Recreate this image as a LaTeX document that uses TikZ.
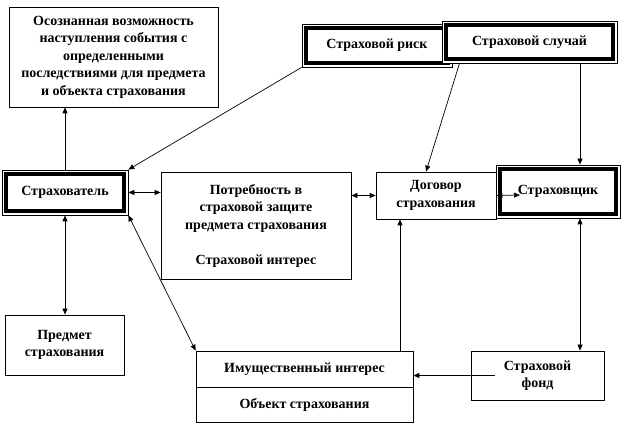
\documentclass[tikz,border=0pt]{standalone}
\usepackage{fontspec}
\setmainfont{Liberation Serif}
\usetikzlibrary{arrows.meta}
\begin{document}
\begin{tikzpicture}[x=1pt,y=-1pt,
   >={Triangle[length=6pt,width=5pt]},
   every path/.style={line width=0.7pt},
   box/.style={draw,fill=white,align=center,inner sep=0pt,
      font=\bfseries\fontsize{14}{17.5}\selectfont},
   dbox/.style={box,path picture={\draw[line width=3.5pt]
      ([shift={(4pt,-4pt)}]path picture bounding box.north west) rectangle
      ([shift={(-4pt,4pt)}]path picture bounding box.south east);}}]
   \useasboundingbox (0,0) rectangle (624,427);
   \node[box,minimum width=209pt,minimum height=100pt] (possib) at (113.5,57) {Осознанная возможность\\наступления события с\\определенными\\последствиями для предмета\\и объекта страхования};
   \node[dbox,minimum width=126pt,minimum height=45pt] (insured) at (65,192.5) {Страхователь};
   \node[box,minimum width=190pt,minimum height=107pt] (need) at (256,225.5) {Потребность в\\страховой защите\\предмета страхования\\[17.5pt]Страховой интерес};
   \node[box,minimum width=120pt,minimum height=47pt] (dogovor) at (436,195.5) {Договор\\страхования};
   \node[dbox,minimum width=124pt,minimum height=53pt] (insurer) at (558,191.5) {Страховщик};
   \node[dbox,minimum width=150pt,minimum height=43pt] (risk) at (377,45.5) {Страховой риск};
   \node[dbox,minimum width=175pt,minimum height=42pt] (event) at (529.5,42) {Страховой случай};
   \node[box,minimum width=119pt,minimum height=60pt] (subject) at (64.5,345) {Предмет\\страхования};
   \node[box,minimum width=217pt,minimum height=36pt] (propint) at (304.5,369) {Имущественный интерес};
   \node[box,minimum width=217pt,minimum height=35pt] (object) at (304.5,404.5) {Объект страхования};
   \node[box,minimum width=133pt,minimum height=49pt] (fund) at (537.5,375.5) {Страховой\\фонд};
   \coordinate (dogend) at (520,195);
   \draw[->] (insured.north) -- (insured.north |- possib.south);
   \draw[->] (risk.south west) -- (insured.north east);
   \draw[<->] (insured.east) -- (need.west |- insured.east);
   \draw[<->] (need.east |- dogovor.west) -- (dogovor.west);
   \draw[<->] (dogovor.east) -- (dogend);
   \draw[->] ([xshift=-70pt]event.south) -- ([xshift=-10pt]dogovor.north);
   \draw[->] ([xshift=50.5pt]event.south) -- ([xshift=22pt]insurer.north);
   \draw[<->] (insured.south) -- (insured.south |- subject.north);
   \draw[<->] (insured.south east) -- (propint.north west);
   \draw[->] ([xshift=-36pt]dogovor.south |- propint.north) -- ([xshift=-36pt]dogovor.south);
   \draw[->] ([xshift=24pt]fund.west) -- (fund.west -| propint.east);
   \draw[<->] ([xshift=22pt]insurer.south) -- ([xshift=22pt]insurer.south |- fund.north);
\end{tikzpicture}
\end{document}
